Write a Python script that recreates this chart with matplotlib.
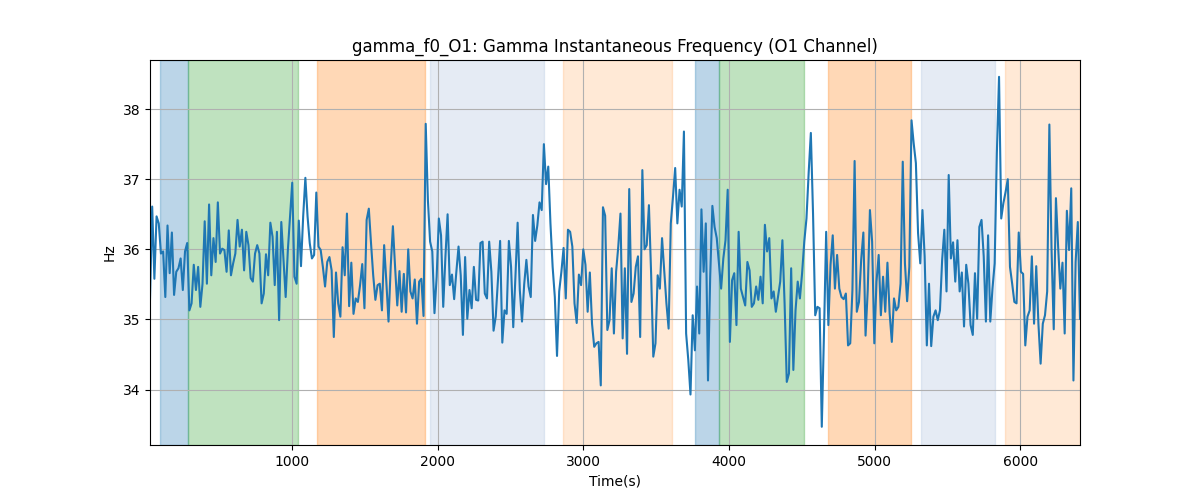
import numpy as np
import matplotlib
matplotlib.use("Agg")
from matplotlib import pyplot as plt

# gamma instantaneous frequency (Hz) left to right
seg1 = [35.29, 36.61, 35.58, 36.47, 36.37, 35.94, 35.97, 35.32, 36.34, 35.66,
        36.24, 35.35, 35.68, 35.73, 35.87, 35.42, 35.97, 36.09, 35.13, 35.23,
        35.78, 35.42, 35.75, 35.18, 35.51, 36.40, 35.51, 36.64, 35.63, 36.16,
        35.82, 36.67, 35.94, 36.01, 35.99, 35.68, 36.27, 35.63, 35.80, 35.94,
        36.42, 36.04, 36.28, 35.70, 36.25, 36.06, 35.59, 35.54, 35.94, 36.06,
        35.94, 35.23, 35.37, 35.93, 35.63, 36.38, 36.18, 35.49, 36.25, 34.99,
        36.39]
seg2 = [35.85, 35.32, 35.99, 36.47, 36.95, 35.61, 35.51, 36.41, 35.76, 36.47,
        37.02, 36.47, 36.09, 35.87, 35.92, 36.81, 36.04, 35.99, 35.75, 35.47,
        35.82, 35.89, 35.70, 34.75, 35.67, 35.23, 35.04, 36.03, 35.63, 36.51,
        35.19, 35.81, 35.08, 35.30, 35.25, 35.49, 35.79, 35.16, 36.42, 36.58,
        36.09, 35.63, 35.28, 35.49, 35.51, 35.13, 36.06, 35.54, 34.97, 35.75,
        36.33, 35.75, 35.20, 35.69, 35.11, 35.65, 35.10, 36.00, 35.40, 35.30,
        35.57, 34.94]
seg3 = [35.54, 35.58, 35.05, 37.79, 36.70, 36.11, 35.97, 35.09, 35.61, 36.44,
        36.20, 35.18, 35.89, 36.50, 35.49, 35.64, 35.29, 35.68, 36.04, 35.63,
        34.78, 35.89, 35.01, 35.42, 35.16, 35.75, 35.28, 35.27, 36.09, 36.11,
        35.37, 35.30, 36.11, 35.68, 34.84, 35.04, 35.56, 36.12, 34.67, 35.13,
        35.08, 36.12, 35.75, 34.89, 35.61, 36.38, 35.42, 34.97, 35.50, 35.85,
        35.47, 35.32, 36.49, 36.12, 36.34, 36.67, 36.56, 37.50, 36.93, 37.18,
        36.37]
seg4 = [35.75, 35.32, 34.48, 35.40, 35.68, 36.02, 35.30, 36.28, 36.25, 36.04,
        35.23, 34.95, 35.64, 35.49, 36.00, 35.78, 35.11, 35.67, 34.94, 34.61,
        34.66, 34.68, 34.06, 36.60, 36.48, 34.85, 34.99, 35.73, 34.80, 35.68,
        36.04, 36.51, 34.73, 35.73, 34.51, 36.86, 35.25, 35.37, 35.75, 35.90,
        34.75, 37.13, 36.00, 36.06, 36.63, 35.66, 34.47, 34.66, 35.63, 35.44,
        36.16, 35.70, 35.23, 34.87, 36.37, 36.75, 37.16, 36.37, 36.85, 36.61,
        37.68]
seg5 = [34.80, 34.42, 33.93, 35.06, 34.56, 35.47, 34.80, 36.57, 35.68, 36.37,
        34.13, 35.61, 36.62, 36.32, 36.16, 35.80, 35.44, 35.87, 36.13, 36.85,
        34.68, 35.56, 35.66, 34.92, 36.25, 35.44, 35.32, 35.20, 35.82, 35.70,
        35.18, 35.23, 35.47, 35.28, 35.61, 35.23, 36.35, 35.97, 36.16, 35.30,
        35.40, 35.11, 35.32, 35.54, 36.13, 35.23, 34.11, 34.23, 35.73, 34.28,
        35.13, 35.54, 35.30, 35.66, 36.11, 36.44, 37.09, 37.66, 36.51, 35.06]
seg6 = [35.18, 35.16, 33.47, 34.80, 36.25, 34.92, 35.78, 36.20, 35.44, 35.92,
        35.44, 35.32, 35.29, 35.37, 34.63, 34.66, 35.42, 37.26, 35.11, 35.25,
        35.85, 36.24, 34.77, 35.42, 36.56, 36.11, 34.66, 35.54, 35.92, 35.06,
        35.61, 35.11, 35.81, 35.09, 34.68, 35.30, 35.13, 35.18, 35.51, 37.25,
        35.80, 35.26, 35.75, 37.84, 37.51, 37.23, 36.23, 35.80, 36.56, 35.90,
        34.63, 35.51, 34.62, 35.04, 35.13, 34.99, 35.13, 35.85, 36.28, 35.40,
        37.06]
seg7 = [35.87, 36.10, 35.54, 36.13, 35.40, 35.67, 34.90, 35.78, 35.51, 34.92,
        34.78, 35.66, 35.01, 36.32, 36.42, 35.90, 34.97, 36.20, 34.97, 35.44,
        35.80, 37.37, 38.46, 36.44, 36.66, 36.82, 37.00, 35.75, 35.51, 35.25,
        35.23, 36.24, 35.68, 35.65, 34.63, 35.04, 35.13, 35.90, 34.94, 35.76,
        34.94, 34.37, 34.94, 35.06, 35.40, 37.78, 35.99, 34.86, 36.73, 36.04,
        35.44, 35.81, 34.80, 36.55, 35.99, 36.87, 34.13, 35.82, 36.39, 35.01]
freq = seg1 + seg2 + seg3 + seg4 + seg5 + seg6 + seg7

t_start, t_end = 24, 6409

# shaded segments: (start, end, colour, alpha)
span_starts = [93, 285, 1172, 1948, 2862, 3763, 3928, 4677, 5316, 5894]
span_ends = [285, 1041, 1914, 2732, 3611, 3928, 4512, 5247, 5825, 6409]
span_colors = ["tab:blue", "tab:green", "tab:orange", "lightsteelblue", "tab:orange",
               "tab:blue", "tab:green", "tab:orange", "lightsteelblue", "tab:orange"]
span_alphas = [0.3, 0.3, 0.3, 0.33, 0.17, 0.3, 0.3, 0.3, 0.33, 0.17]


def main():
    t = np.linspace(t_start, t_end, len(freq))
    fig, ax = plt.subplots(figsize=(12, 5), dpi=100)
    for s, e, c, a in zip(span_starts, span_ends, span_colors, span_alphas):
        ax.axvspan(s, e, color=c, alpha=a)
    ax.plot(t, freq, color="tab:blue", linewidth=1.5)
    ax.set_xlim(t_start, t_end)
    ax.set_ylim(33.21, 38.7)
    ax.set_xticks([1000, 2000, 3000, 4000, 5000, 6000])
    ax.set_yticks([34, 35, 36, 37, 38])
    ax.grid(True)
    ax.set_title("gamma_f0_O1: Gamma Instantaneous Frequency (O1 Channel)")
    ax.set_xlabel("Time(s)")
    ax.set_ylabel("Hz")
    fig.savefig("out.png")


if __name__ == '__main__':
    main()
